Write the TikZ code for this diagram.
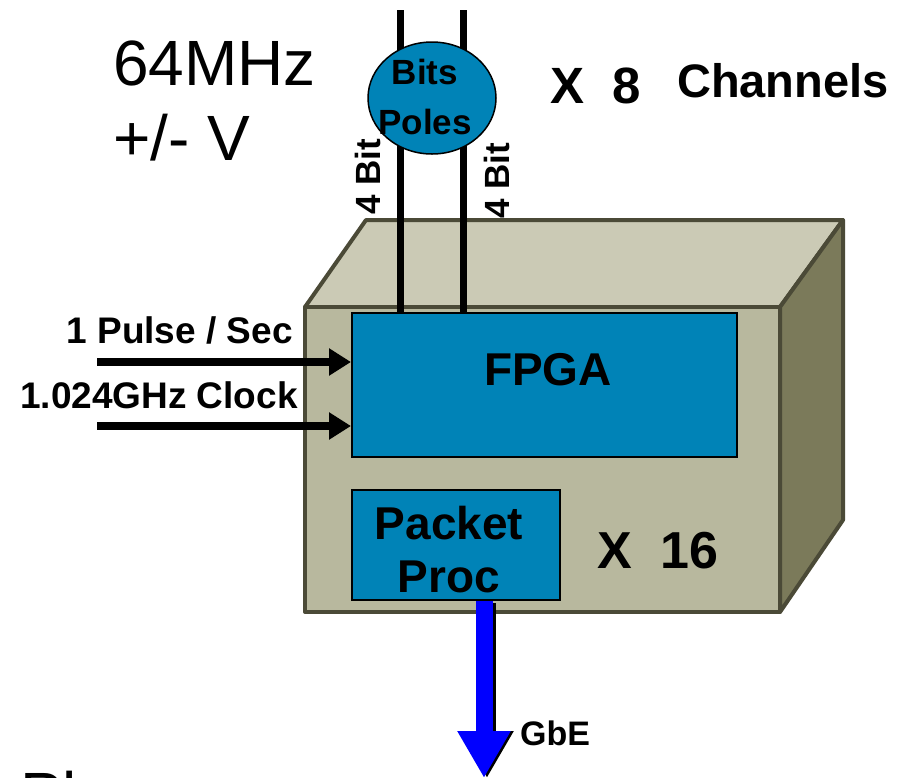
\documentclass[tikz,border=0pt]{standalone}
\usepackage{fontspec}
\setmainfont{Liberation Sans}
\usepackage{tikz}
\usetikzlibrary{arrows.meta, shapes.geometric, positioning, calc}
\usepackage{xcolor}

\definecolor{boxfront}{HTML}{B8B89E}
\definecolor{boxtop}{HTML}{CBCAB5}
\definecolor{boxside}{HTML}{7B7A5A}
\definecolor{boxline}{HTML}{4B4A37}
\definecolor{chipblue}{HTML}{0083B7}

\tikzset{
	chip/.style={draw=black, line width=2pt, fill=chipblue, inner sep=0pt},
	chiptext/.style={font=\bfseries\fontsize{46}{53}\selectfont, align=center, inner sep=0pt},
	wire/.style={line width=7pt},
	insig/.style={line width=8pt, -{Triangle[length=22pt, width=26pt]}},
	smalllbl/.style={font=\bfseries\fontsize{35}{40}\selectfont, inner sep=0pt},
	biglbl/.style={font=\bfseries\fontsize{51}{56}\selectfont, inner sep=0pt, anchor=base west},
	plainlbl/.style={font=\fontsize{64}{70}\selectfont, inner sep=0pt, anchor=base west}
}

\begin{document}
\begin{tikzpicture}[x={(1pt,0pt)}, y={(0pt,-1pt)}]
			\useasboundingbox (0,0) rectangle (909,777);

			% Caja (frente, techo, lado)
			\filldraw[fill=boxtop, draw=boxline, line width=4pt, line join=round]
				(305,307) -- (366,220) -- (843,220) -- (780,307) -- cycle;
			\filldraw[fill=boxside, draw=boxline, line width=4pt, line join=round]
				(780,307) -- (843,220) -- (843,520) -- (780,612) -- cycle;
			\filldraw[fill=boxfront, draw=boxline, line width=4pt, line join=round]
				(305,307) rectangle (780,612);

			% FPGA y Packet Proc
			\node[chip, minimum width=385pt, minimum height=144pt] (fpga) at (544.5,385) {};
			\node[chiptext] (fpgatext) at (548,370) {FPGA};
			\node[chip, minimum width=208pt, minimum height=110pt] (pp) at (456,545) {};
			\node[chiptext] (pptext) at (449,550) {Packet\\Proc};
			\node[biglbl, font=\bfseries\fontsize{52}{56}\selectfont] (x16) at (597,568) {X~~16};

			% Lineas de 4 bits
			\coordinate (w1) at (400,10);
			\coordinate (w2) at (463,10);
			\draw[wire] (w1) -- (w1 |- fpga.north);
			\draw[wire] (w2) -- (w2 |- fpga.north);
			\node[smalllbl, rotate=90] (bitl) at (368,177) {4 Bit};
			\node[smalllbl, rotate=90] (bitr) at (497,181) {4 Bit};

			% Bits Poles
			\node[ellipse, draw=black, line width=1.5pt, fill=chipblue,
				minimum width=128pt, minimum height=112pt] (bp) at (432,98) {};
			\node[smalllbl, align=center, font=\bfseries\fontsize{35}{50}\selectfont] (bptext) at (425,97) {Bits\\Poles};

			\node[plainlbl] (mhz) at (113,85) {64MHz};
			\node[plainlbl] (volt) at (113,160) {+/- V};
			\node[biglbl] (x8) at (550,103) {X~~8};
			\node[biglbl, font=\bfseries\fontsize{47}{52}\selectfont] (chan) at (677,97) {Channels};

			% Entradas
			\coordinate (pps) at (97,362);
			\coordinate (clk) at (97,426);
			\draw[insig] (pps) -- (pps -| fpga.west);
			\draw[insig] (clk) -- (clk -| fpga.west);
			\node[smalllbl, anchor=base east, font=\bfseries\fontsize{37}{40}\selectfont] (ppstext) at (293,343) {1 Pulse / Sec};
			\node[smalllbl, anchor=base east, font=\bfseries\fontsize{37}{40}\selectfont] (clktext) at (298,408) {1.024GHz Clock};

			% Salida GbE
			\coordinate (gbe) at (484,778);
			\draw[black, line width=17pt, -{Triangle[length=47pt, width=50pt]}]
				([xshift=3pt, yshift=-2pt]pp.south -| gbe) -- ([xshift=3pt]gbe);
			\draw[blue, line width=17pt, -{Triangle[length=47pt, width=50pt]}]
				(pp.south -| gbe) -- (gbe);
			\node[smalllbl, anchor=base west, font=\bfseries\fontsize{34}{40}\selectfont] (gbetext) at (520,745) {GbE};

			\node[plainlbl, anchor=north west] (pl) at (20,771) {Pl};
		\end{tikzpicture}
\end{document}
